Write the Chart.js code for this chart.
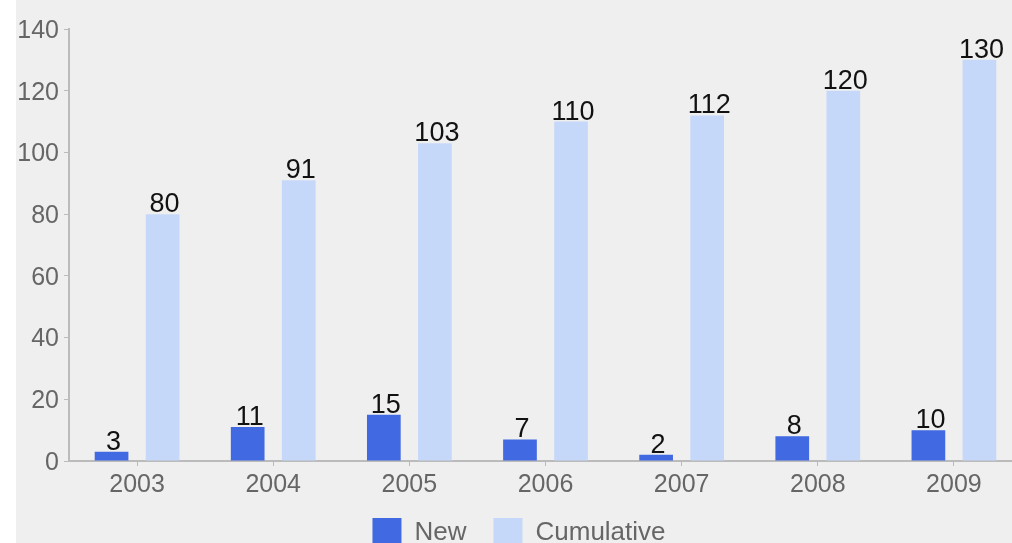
<!DOCTYPE html>
<html>
<head>
<meta charset="utf-8">
<script src="https://cdn.jsdelivr.net/npm/chart.js@4/dist/chart.umd.min.js"></script>
<style>
  html, body { margin: 0; padding: 0; background: #fff; overflow: hidden; width: 1012px; height: 543px; }
  #wrap { position: absolute; left: 16px; top: 0; width: 1006px; height: 563px; background: #efefef; }
</style>
</head>
<body>
<div id="wrap"><canvas id="chart" width="1006" height="563"></canvas></div>
<script>
const years = ['2003', '2004', '2005', '2006', '2007', '2008', '2009'];
const newCounts = [3, 11, 15, 7, 2, 8, 10];
const cumulative = [80, 91, 103, 110, 112, 120, 130];
const yTicks = [0, 20, 40, 60, 80, 100, 120, 140];

const FONT = '"Liberation Sans", Arial, Helvetica, sans-serif';

// draws the value above each bar
const barValues = {
  id: 'barValues',
  afterDatasetsDraw(chart) {
    const ctx = chart.ctx;
    ctx.save();
    ctx.font = '27px ' + FONT;
    ctx.fillStyle = '#111';
    ctx.textAlign = 'center';
    ctx.textBaseline = 'alphabetic';
    chart.data.datasets.forEach((ds, i) => {
      chart.getDatasetMeta(i).data.forEach((bar, j) => {
        ctx.fillText(String(ds.data[j]), bar.x + 2, bar.y - 2);
      });
    });
    ctx.restore();
  }
};

// pull the legend up a little so it sits closer to the axis labels
const legendShift = {
  id: 'legendShift',
  afterLayout(chart) {
    if (chart.legend) {
      chart.legend.top -= 6;
      chart.legend.bottom -= 6;
    }
  }
};

new Chart(document.getElementById('chart'), {
  type: 'bar',
  data: {
    labels: years,
    datasets: [
      { label: 'New', data: newCounts, backgroundColor: '#4169e1', borderWidth: 0 },
      { label: 'Cumulative', data: cumulative, backgroundColor: '#c6d8f9', borderWidth: 0 }
    ]
  },
  options: {
    responsive: false,
    animation: false,
    devicePixelRatio: 1,
    categoryPercentage: 0.75,
    barPercentage: 0.66,
    layout: { padding: { top: 29, left: 0, right: 0, bottom: 0 } },
    plugins: {
      tooltip: { enabled: false },
      legend: {
        position: 'bottom',
        labels: {
          boxWidth: 29,
          boxHeight: 29,
          padding: 27,
          color: '#666',
          font: { family: FONT, size: 26 }
        }
      }
    },
    scales: {
      x: {
        grid: { offset: false, drawOnChartArea: false, tickLength: 5, color: '#bbb' },
        border: { color: '#bbb', width: 2 },
        ticks: { color: '#666', padding: 4, maxRotation: 0, font: { family: FONT, size: 25 } },
        afterFit: s => { s.height = 36; }
      },
      y: {
        min: 0,
        max: 140,
        afterBuildTicks: s => { s.ticks = yTicks.map(v => ({ value: v })); },
        grid: { drawOnChartArea: false, tickLength: 5, color: '#bbb' },
        border: { color: '#bbb', width: 2 },
        ticks: { color: '#666', padding: 5, labelOffset: 2, font: { family: FONT, size: 25 } },
        afterFit: s => { s.width = 53; }
      }
    }
  },
  plugins: [barValues, legendShift]
});
</script>
</body>
</html>
